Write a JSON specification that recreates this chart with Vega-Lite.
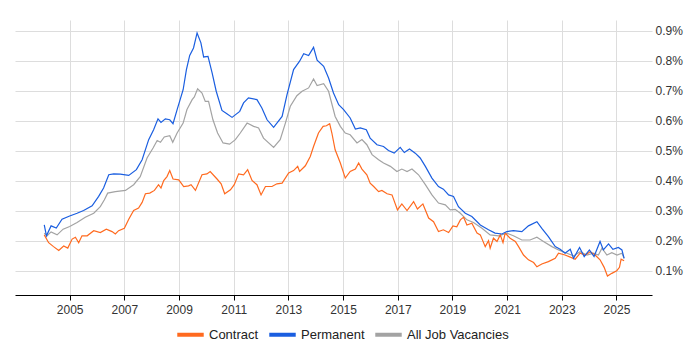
{
  "$schema": "https://vega.github.io/schema/vega-lite/v6.json",
  "width": 637,
  "height": 275,
  "autosize": "none",
  "padding": {"left": 15, "top": 20, "right": 48, "bottom": 55},
  "background": "white",
  "config": {
    "view": {"stroke": null},
    "font": "Liberation Sans",
    "axis": {"labelFont": "Liberation Sans", "labelColor": "#333333", "labelFontSize": 12, "gridColor": "#dddddd", "gridWidth": 1}
  },
  "data": {"values": [
    {"s":"All Job Vacancies","year":2004.07,"v":0.226},{"s":"All Job Vacancies","year":2004.17,"v":0.217},{"s":"All Job Vacancies","year":2004.32,"v":0.23},{"s":"All Job Vacancies","year":2004.54,"v":0.22},{"s":"All Job Vacancies","year":2004.76,"v":0.239},{"s":"All Job Vacancies","year":2005.0,"v":0.248},{"s":"All Job Vacancies","year":2005.27,"v":0.261},{"s":"All Job Vacancies","year":2005.57,"v":0.279},{"s":"All Job Vacancies","year":2005.88,"v":0.292},{"s":"All Job Vacancies","year":2006.12,"v":0.314},{"s":"All Job Vacancies","year":2006.27,"v":0.337},{"s":"All Job Vacancies","year":2006.39,"v":0.359},{"s":"All Job Vacancies","year":2006.67,"v":0.364},{"s":"All Job Vacancies","year":2007.04,"v":0.368},{"s":"All Job Vacancies","year":2007.34,"v":0.387},{"s":"All Job Vacancies","year":2007.58,"v":0.414},{"s":"All Job Vacancies","year":2007.83,"v":0.476},{"s":"All Job Vacancies","year":2008.05,"v":0.509},{"s":"All Job Vacancies","year":2008.2,"v":0.534},{"s":"All Job Vacancies","year":2008.32,"v":0.528},{"s":"All Job Vacancies","year":2008.46,"v":0.546},{"s":"All Job Vacancies","year":2008.66,"v":0.55},{"s":"All Job Vacancies","year":2008.77,"v":0.528},{"s":"All Job Vacancies","year":2008.93,"v":0.559},{"s":"All Job Vacancies","year":2009.15,"v":0.592},{"s":"All Job Vacancies","year":2009.29,"v":0.637},{"s":"All Job Vacancies","year":2009.48,"v":0.67},{"s":"All Job Vacancies","year":2009.56,"v":0.679},{"s":"All Job Vacancies","year":2009.68,"v":0.706},{"s":"All Job Vacancies","year":2009.84,"v":0.692},{"s":"All Job Vacancies","year":2009.96,"v":0.664},{"s":"All Job Vacancies","year":2010.08,"v":0.664},{"s":"All Job Vacancies","year":2010.24,"v":0.603},{"s":"All Job Vacancies","year":2010.41,"v":0.559},{"s":"All Job Vacancies","year":2010.61,"v":0.526},{"s":"All Job Vacancies","year":2010.85,"v":0.522},{"s":"All Job Vacancies","year":2011.06,"v":0.537},{"s":"All Job Vacancies","year":2011.24,"v":0.559},{"s":"All Job Vacancies","year":2011.49,"v":0.592},{"s":"All Job Vacancies","year":2011.73,"v":0.581},{"s":"All Job Vacancies","year":2011.91,"v":0.576},{"s":"All Job Vacancies","year":2012.09,"v":0.542},{"s":"All Job Vacancies","year":2012.46,"v":0.511},{"s":"All Job Vacancies","year":2012.7,"v":0.537},{"s":"All Job Vacancies","year":2012.89,"v":0.592},{"s":"All Job Vacancies","year":2013.07,"v":0.648},{"s":"All Job Vacancies","year":2013.31,"v":0.683},{"s":"All Job Vacancies","year":2013.5,"v":0.698},{"s":"All Job Vacancies","year":2013.74,"v":0.709},{"s":"All Job Vacancies","year":2013.92,"v":0.739},{"s":"All Job Vacancies","year":2014.05,"v":0.717},{"s":"All Job Vacancies","year":2014.29,"v":0.723},{"s":"All Job Vacancies","year":2014.47,"v":0.698},{"s":"All Job Vacancies","year":2014.71,"v":0.614},{"s":"All Job Vacancies","year":2014.9,"v":0.581},{"s":"All Job Vacancies","year":2015.08,"v":0.559},{"s":"All Job Vacancies","year":2015.26,"v":0.553},{"s":"All Job Vacancies","year":2015.51,"v":0.526},{"s":"All Job Vacancies","year":2015.69,"v":0.537},{"s":"All Job Vacancies","year":2015.87,"v":0.52},{"s":"All Job Vacancies","year":2016.06,"v":0.487},{"s":"All Job Vacancies","year":2016.3,"v":0.47},{"s":"All Job Vacancies","year":2016.48,"v":0.459},{"s":"All Job Vacancies","year":2016.73,"v":0.448},{"s":"All Job Vacancies","year":2016.97,"v":0.431},{"s":"All Job Vacancies","year":2017.15,"v":0.439},{"s":"All Job Vacancies","year":2017.34,"v":0.431},{"s":"All Job Vacancies","year":2017.52,"v":0.439},{"s":"All Job Vacancies","year":2017.76,"v":0.42},{"s":"All Job Vacancies","year":2018.01,"v":0.387},{"s":"All Job Vacancies","year":2018.25,"v":0.353},{"s":"All Job Vacancies","year":2018.49,"v":0.326},{"s":"All Job Vacancies","year":2018.74,"v":0.32},{"s":"All Job Vacancies","year":2018.92,"v":0.303},{"s":"All Job Vacancies","year":2019.1,"v":0.305},{"s":"All Job Vacancies","year":2019.29,"v":0.292},{"s":"All Job Vacancies","year":2019.53,"v":0.27},{"s":"All Job Vacancies","year":2019.77,"v":0.261},{"s":"All Job Vacancies","year":2020.08,"v":0.242},{"s":"All Job Vacancies","year":2020.38,"v":0.22},{"s":"All Job Vacancies","year":2020.69,"v":0.217},{"s":"All Job Vacancies","year":2020.99,"v":0.226},{"s":"All Job Vacancies","year":2021.23,"v":0.217},{"s":"All Job Vacancies","year":2021.54,"v":0.203},{"s":"All Job Vacancies","year":2021.84,"v":0.203},{"s":"All Job Vacancies","year":2022.09,"v":0.212},{"s":"All Job Vacancies","year":2022.33,"v":0.198},{"s":"All Job Vacancies","year":2022.64,"v":0.181},{"s":"All Job Vacancies","year":2022.88,"v":0.17},{"s":"All Job Vacancies","year":2023.19,"v":0.159},{"s":"All Job Vacancies","year":2023.43,"v":0.15},{"s":"All Job Vacancies","year":2023.67,"v":0.164},{"s":"All Job Vacancies","year":2023.92,"v":0.153},{"s":"All Job Vacancies","year":2024.16,"v":0.159},{"s":"All Job Vacancies","year":2024.34,"v":0.153},{"s":"All Job Vacancies","year":2024.47,"v":0.176},{"s":"All Job Vacancies","year":2024.65,"v":0.153},{"s":"All Job Vacancies","year":2024.83,"v":0.161},{"s":"All Job Vacancies","year":2025.02,"v":0.153},{"s":"All Job Vacancies","year":2025.2,"v":0.159},{"s":"All Job Vacancies","year":2025.28,"v":0.142},

    {"s":"Contract","year":2004.07,"v":0.22},{"s":"Contract","year":2004.23,"v":0.194},{"s":"Contract","year":2004.41,"v":0.181},{"s":"Contract","year":2004.6,"v":0.168},{"s":"Contract","year":2004.78,"v":0.183},{"s":"Contract","year":2004.93,"v":0.176},{"s":"Contract","year":2005.09,"v":0.206},{"s":"Contract","year":2005.21,"v":0.212},{"s":"Contract","year":2005.33,"v":0.194},{"s":"Contract","year":2005.45,"v":0.217},{"s":"Contract","year":2005.64,"v":0.217},{"s":"Contract","year":2005.88,"v":0.234},{"s":"Contract","year":2006.12,"v":0.228},{"s":"Contract","year":2006.34,"v":0.239},{"s":"Contract","year":2006.55,"v":0.231},{"s":"Contract","year":2006.67,"v":0.223},{"s":"Contract","year":2006.79,"v":0.234},{"s":"Contract","year":2007.0,"v":0.242},{"s":"Contract","year":2007.16,"v":0.272},{"s":"Contract","year":2007.34,"v":0.301},{"s":"Contract","year":2007.52,"v":0.309},{"s":"Contract","year":2007.65,"v":0.328},{"s":"Contract","year":2007.77,"v":0.357},{"s":"Contract","year":2007.93,"v":0.359},{"s":"Contract","year":2008.1,"v":0.368},{"s":"Contract","year":2008.25,"v":0.387},{"s":"Contract","year":2008.34,"v":0.376},{"s":"Contract","year":2008.44,"v":0.401},{"s":"Contract","year":2008.56,"v":0.414},{"s":"Contract","year":2008.66,"v":0.434},{"s":"Contract","year":2008.78,"v":0.406},{"s":"Contract","year":2008.99,"v":0.403},{"s":"Contract","year":2009.17,"v":0.381},{"s":"Contract","year":2009.35,"v":0.383},{"s":"Contract","year":2009.44,"v":0.387},{"s":"Contract","year":2009.6,"v":0.368},{"s":"Contract","year":2009.84,"v":0.42},{"s":"Contract","year":2010.02,"v":0.423},{"s":"Contract","year":2010.14,"v":0.431},{"s":"Contract","year":2010.39,"v":0.406},{"s":"Contract","year":2010.54,"v":0.39},{"s":"Contract","year":2010.67,"v":0.357},{"s":"Contract","year":2010.88,"v":0.37},{"s":"Contract","year":2011.02,"v":0.387},{"s":"Contract","year":2011.18,"v":0.423},{"s":"Contract","year":2011.36,"v":0.42},{"s":"Contract","year":2011.51,"v":0.437},{"s":"Contract","year":2011.67,"v":0.401},{"s":"Contract","year":2011.85,"v":0.387},{"s":"Contract","year":2012.0,"v":0.353},{"s":"Contract","year":2012.16,"v":0.381},{"s":"Contract","year":2012.4,"v":0.381},{"s":"Contract","year":2012.58,"v":0.39},{"s":"Contract","year":2012.77,"v":0.392},{"s":"Contract","year":2013.01,"v":0.426},{"s":"Contract","year":2013.19,"v":0.434},{"s":"Contract","year":2013.34,"v":0.448},{"s":"Contract","year":2013.41,"v":0.431},{"s":"Contract","year":2013.62,"v":0.45},{"s":"Contract","year":2013.8,"v":0.481},{"s":"Contract","year":2013.92,"v":0.514},{"s":"Contract","year":2014.1,"v":0.559},{"s":"Contract","year":2014.27,"v":0.581},{"s":"Contract","year":2014.39,"v":0.583},{"s":"Contract","year":2014.51,"v":0.59},{"s":"Contract","year":2014.59,"v":0.559},{"s":"Contract","year":2014.71,"v":0.503},{"s":"Contract","year":2014.9,"v":0.459},{"s":"Contract","year":2015.08,"v":0.409},{"s":"Contract","year":2015.26,"v":0.431},{"s":"Contract","year":2015.45,"v":0.439},{"s":"Contract","year":2015.57,"v":0.459},{"s":"Contract","year":2015.69,"v":0.439},{"s":"Contract","year":2015.87,"v":0.42},{"s":"Contract","year":2015.99,"v":0.392},{"s":"Contract","year":2016.12,"v":0.381},{"s":"Contract","year":2016.3,"v":0.364},{"s":"Contract","year":2016.42,"v":0.368},{"s":"Contract","year":2016.61,"v":0.357},{"s":"Contract","year":2016.79,"v":0.353},{"s":"Contract","year":2016.99,"v":0.303},{"s":"Contract","year":2017.15,"v":0.323},{"s":"Contract","year":2017.34,"v":0.301},{"s":"Contract","year":2017.58,"v":0.331},{"s":"Contract","year":2017.72,"v":0.306},{"s":"Contract","year":2017.92,"v":0.323},{"s":"Contract","year":2018.13,"v":0.276},{"s":"Contract","year":2018.31,"v":0.264},{"s":"Contract","year":2018.49,"v":0.231},{"s":"Contract","year":2018.67,"v":0.237},{"s":"Contract","year":2018.86,"v":0.228},{"s":"Contract","year":2019.02,"v":0.25},{"s":"Contract","year":2019.16,"v":0.247},{"s":"Contract","year":2019.29,"v":0.27},{"s":"Contract","year":2019.41,"v":0.279},{"s":"Contract","year":2019.53,"v":0.253},{"s":"Contract","year":2019.71,"v":0.259},{"s":"Contract","year":2019.9,"v":0.226},{"s":"Contract","year":2020.02,"v":0.22},{"s":"Contract","year":2020.2,"v":0.181},{"s":"Contract","year":2020.32,"v":0.201},{"s":"Contract","year":2020.38,"v":0.176},{"s":"Contract","year":2020.5,"v":0.209},{"s":"Contract","year":2020.63,"v":0.198},{"s":"Contract","year":2020.75,"v":0.22},{"s":"Contract","year":2020.85,"v":0.194},{"s":"Contract","year":2020.93,"v":0.226},{"s":"Contract","year":2021.11,"v":0.209},{"s":"Contract","year":2021.3,"v":0.198},{"s":"Contract","year":2021.42,"v":0.181},{"s":"Contract","year":2021.6,"v":0.153},{"s":"Contract","year":2021.78,"v":0.137},{"s":"Contract","year":2021.97,"v":0.128},{"s":"Contract","year":2022.09,"v":0.114},{"s":"Contract","year":2022.27,"v":0.123},{"s":"Contract","year":2022.51,"v":0.131},{"s":"Contract","year":2022.76,"v":0.142},{"s":"Contract","year":2022.88,"v":0.159},{"s":"Contract","year":2023.12,"v":0.153},{"s":"Contract","year":2023.31,"v":0.146},{"s":"Contract","year":2023.49,"v":0.139},{"s":"Contract","year":2023.67,"v":0.159},{"s":"Contract","year":2023.86,"v":0.153},{"s":"Contract","year":2024.04,"v":0.164},{"s":"Contract","year":2024.22,"v":0.153},{"s":"Contract","year":2024.4,"v":0.137},{"s":"Contract","year":2024.55,"v":0.112},{"s":"Contract","year":2024.67,"v":0.083},{"s":"Contract","year":2024.83,"v":0.092},{"s":"Contract","year":2025.01,"v":0.101},{"s":"Contract","year":2025.11,"v":0.112},{"s":"Contract","year":2025.17,"v":0.139},{"s":"Contract","year":2025.28,"v":0.134},

    {"s":"Permanent","year":2004.07,"v":0.253},{"s":"Permanent","year":2004.15,"v":0.217},{"s":"Permanent","year":2004.32,"v":0.25},{"s":"Permanent","year":2004.51,"v":0.243},{"s":"Permanent","year":2004.72,"v":0.272},{"s":"Permanent","year":2005.0,"v":0.283},{"s":"Permanent","year":2005.27,"v":0.292},{"s":"Permanent","year":2005.51,"v":0.301},{"s":"Permanent","year":2005.82,"v":0.317},{"s":"Permanent","year":2006.06,"v":0.348},{"s":"Permanent","year":2006.24,"v":0.376},{"s":"Permanent","year":2006.43,"v":0.42},{"s":"Permanent","year":2006.61,"v":0.423},{"s":"Permanent","year":2006.85,"v":0.422},{"s":"Permanent","year":2007.16,"v":0.418},{"s":"Permanent","year":2007.44,"v":0.437},{"s":"Permanent","year":2007.65,"v":0.47},{"s":"Permanent","year":2007.89,"v":0.537},{"s":"Permanent","year":2008.07,"v":0.57},{"s":"Permanent","year":2008.23,"v":0.606},{"s":"Permanent","year":2008.34,"v":0.594},{"s":"Permanent","year":2008.5,"v":0.606},{"s":"Permanent","year":2008.66,"v":0.603},{"s":"Permanent","year":2008.78,"v":0.59},{"s":"Permanent","year":2008.93,"v":0.637},{"s":"Permanent","year":2009.15,"v":0.703},{"s":"Permanent","year":2009.27,"v":0.77},{"s":"Permanent","year":2009.39,"v":0.817},{"s":"Permanent","year":2009.53,"v":0.842},{"s":"Permanent","year":2009.66,"v":0.892},{"s":"Permanent","year":2009.8,"v":0.859},{"s":"Permanent","year":2009.9,"v":0.812},{"s":"Permanent","year":2010.06,"v":0.814},{"s":"Permanent","year":2010.21,"v":0.759},{"s":"Permanent","year":2010.36,"v":0.698},{"s":"Permanent","year":2010.57,"v":0.634},{"s":"Permanent","year":2010.75,"v":0.623},{"s":"Permanent","year":2010.94,"v":0.611},{"s":"Permanent","year":2011.22,"v":0.631},{"s":"Permanent","year":2011.36,"v":0.659},{"s":"Permanent","year":2011.54,"v":0.676},{"s":"Permanent","year":2011.85,"v":0.67},{"s":"Permanent","year":2012.03,"v":0.642},{"s":"Permanent","year":2012.22,"v":0.603},{"s":"Permanent","year":2012.46,"v":0.578},{"s":"Permanent","year":2012.77,"v":0.614},{"s":"Permanent","year":2012.95,"v":0.687},{"s":"Permanent","year":2013.19,"v":0.77},{"s":"Permanent","year":2013.41,"v":0.798},{"s":"Permanent","year":2013.56,"v":0.823},{"s":"Permanent","year":2013.74,"v":0.817},{"s":"Permanent","year":2013.92,"v":0.844},{"s":"Permanent","year":2014.05,"v":0.801},{"s":"Permanent","year":2014.29,"v":0.781},{"s":"Permanent","year":2014.47,"v":0.742},{"s":"Permanent","year":2014.65,"v":0.692},{"s":"Permanent","year":2014.84,"v":0.653},{"s":"Permanent","year":2015.02,"v":0.637},{"s":"Permanent","year":2015.26,"v":0.609},{"s":"Permanent","year":2015.45,"v":0.572},{"s":"Permanent","year":2015.63,"v":0.576},{"s":"Permanent","year":2015.85,"v":0.57},{"s":"Permanent","year":2015.99,"v":0.542},{"s":"Permanent","year":2016.24,"v":0.52},{"s":"Permanent","year":2016.48,"v":0.514},{"s":"Permanent","year":2016.66,"v":0.501},{"s":"Permanent","year":2016.87,"v":0.492},{"s":"Permanent","year":2017.09,"v":0.511},{"s":"Permanent","year":2017.24,"v":0.494},{"s":"Permanent","year":2017.43,"v":0.506},{"s":"Permanent","year":2017.64,"v":0.492},{"s":"Permanent","year":2017.82,"v":0.476},{"s":"Permanent","year":2018.01,"v":0.448},{"s":"Permanent","year":2018.25,"v":0.409},{"s":"Permanent","year":2018.49,"v":0.381},{"s":"Permanent","year":2018.67,"v":0.372},{"s":"Permanent","year":2018.86,"v":0.353},{"s":"Permanent","year":2019.04,"v":0.348},{"s":"Permanent","year":2019.22,"v":0.314},{"s":"Permanent","year":2019.47,"v":0.292},{"s":"Permanent","year":2019.71,"v":0.281},{"s":"Permanent","year":2020.02,"v":0.253},{"s":"Permanent","year":2020.32,"v":0.237},{"s":"Permanent","year":2020.56,"v":0.226},{"s":"Permanent","year":2020.81,"v":0.223},{"s":"Permanent","year":2020.99,"v":0.231},{"s":"Permanent","year":2021.23,"v":0.234},{"s":"Permanent","year":2021.54,"v":0.231},{"s":"Permanent","year":2021.78,"v":0.25},{"s":"Permanent","year":2022.09,"v":0.264},{"s":"Permanent","year":2022.27,"v":0.242},{"s":"Permanent","year":2022.51,"v":0.214},{"s":"Permanent","year":2022.76,"v":0.181},{"s":"Permanent","year":2022.94,"v":0.172},{"s":"Permanent","year":2023.12,"v":0.159},{"s":"Permanent","year":2023.31,"v":0.172},{"s":"Permanent","year":2023.43,"v":0.142},{"s":"Permanent","year":2023.65,"v":0.178},{"s":"Permanent","year":2023.82,"v":0.148},{"s":"Permanent","year":2024.01,"v":0.17},{"s":"Permanent","year":2024.18,"v":0.148},{"s":"Permanent","year":2024.4,"v":0.198},{"s":"Permanent","year":2024.52,"v":0.17},{"s":"Permanent","year":2024.71,"v":0.19},{"s":"Permanent","year":2024.87,"v":0.172},{"s":"Permanent","year":2025.07,"v":0.178},{"s":"Permanent","year":2025.2,"v":0.17},{"s":"Permanent","year":2025.28,"v":0.142}
  ]},
  "mark": {"type": "line", "strokeWidth": 1.2, "interpolate": "linear"},
  "encoding": {
    "x": {
      "field": "year", "type": "quantitative",
      "scale": {"domain": [2003.0, 2026.3], "nice": false, "zero": false},
      "axis": {"title": null, "values": [2005, 2007, 2009, 2011, 2013, 2015, 2017, 2019, 2021, 2023, 2025], "format": "d", "domainColor": "#000000", "tickColor": "#000000", "tickSize": 5, "labelPadding": 4, "grid": true}
    },
    "y": {
      "field": "v", "type": "quantitative",
      "scale": {"domain": [0.02, 0.935], "nice": false, "zero": false},
      "axis": {"title": null, "orient": "right", "values": [0.1, 0.2, 0.3, 0.4, 0.5, 0.6, 0.7, 0.8, 0.9], "labelExpr": "format(datum.value, '.1f') + '%'", "domain": false, "ticks": false, "labelPadding": 3, "grid": true}
    },
    "color": {
      "field": "s", "type": "nominal",
      "scale": {"domain": ["Contract", "Permanent", "All Job Vacancies"], "range": ["#ff6a1f", "#1a5ee0", "#a3a3a3"]},
      "legend": {"title": null, "orient": "none", "direction": "horizontal", "legendX": 160, "legendY": 299, "symbolType": "stroke", "symbolSize": 700, "symbolStrokeWidth": 4, "labelFontSize": 13, "labelColor": "#222222", "labelFont": "Liberation Sans", "columnPadding": 2, "labelOffset": 3}
    },
    "order": {"field": "year", "type": "quantitative"}
  }
}
